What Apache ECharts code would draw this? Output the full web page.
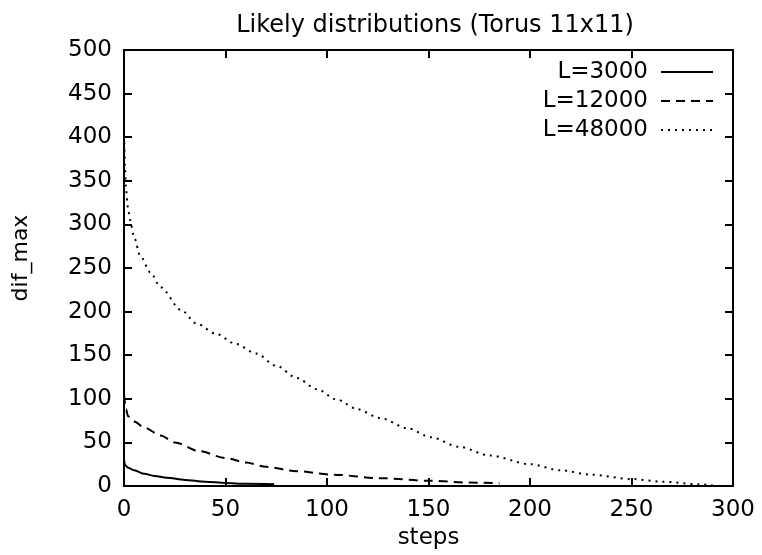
<!DOCTYPE html>
<html><head><meta charset="utf-8">
<script src="https://cdn.jsdelivr.net/npm/echarts@6/dist/echarts.min.js"></script>
<style>html,body{margin:0;padding:0;background:#fff}#c{width:762px;height:555px}</style>
</head><body><div id="c"></div>
<script>
const titleText = 'Likely distributions (Torus 11x11)';
const xName = 'steps';
const yName = 'dif_max';
const seriesNames = ['L=3000', 'L=12000', 'L=48000'];
const xTicks = [0, 50, 100, 150, 200, 250, 300];
const yTicks = [0, 50, 100, 150, 200, 250, 300, 350, 400, 450, 500];

const steps3000 = [0, 0.5, 2, 5, 10, 15, 21, 30, 40, 50, 60, 74];
const vals3000  = [30, 24, 21, 18, 14, 11.5, 9.5, 7, 5, 3.5, 2.5, 2];

const steps12000 = [0, 1, 2, 5, 10, 18, 25, 37, 50, 60, 70, 85, 103, 126, 150, 170, 185];
const vals12000  = [105, 88, 80, 74, 67, 58, 50, 40, 32, 27, 22, 17, 13, 9, 6, 4, 3];

const steps48000 = [0, 0.5, 1, 2, 3, 5, 8, 13, 18, 28, 36, 45, 55, 65, 75, 85, 95, 105, 115, 126, 140, 151, 165, 180, 200, 215, 230, 250, 265, 283, 290];
const vals48000  = [410, 365, 340, 318, 305, 285, 264, 245, 228, 202, 186, 175, 163, 152, 138, 124, 111, 99, 88, 78, 66, 56, 45, 35, 25, 18, 13, 8, 5, 2, 1];

function pairs(xs, ys) { return xs.map((x, i) => [x, ys[i]]); }

const font = 'DejaVu Sans';
const chart = echarts.init(document.getElementById('c'), null, {renderer: 'canvas'});
const axisLine = {show: true, onZero: false, lineStyle: {color: '#000', width: 2}};
const axisTick = {show: true, inside: true, length: 8, lineStyle: {color: '#000', width: 2}};
const lbl = {color: '#000', fontFamily: font, fontSize: 23};

chart.setOption({
  animation: false,
  backgroundColor: '#fff',
  title: {text: titleText, left: 430, textAlign: 'center', top: 9,
    textStyle: {color: '#000', fontFamily: font, fontSize: 24, fontWeight: 'normal'}},
  grid: {left: 124, right: 762 - 733, top: 50, bottom: 555 - 488, containLabel: false},
  legend: {
    right: 43, top: 54, orient: 'vertical', align: 'right',
    itemWidth: 52, itemHeight: 14, itemGap: 3,
    itemStyle: {opacity: 0},
    textStyle: {color: '#000', fontFamily: font, fontSize: 23, lineHeight: 26, padding: [0, 8, 0, 0]},
    data: seriesNames
  },
  xAxis: [
    {type: 'value', min: 0, max: 300, interval: 50, position: 'bottom',
     name: xName, nameLocation: 'middle', nameGap: 41,
     nameTextStyle: {color: '#000', fontFamily: font, fontSize: 23},
     axisLine, axisTick, splitLine: {show: false},
     axisLabel: Object.assign({margin: 13}, lbl)},
    {type: 'value', min: 0, max: 300, interval: 50, position: 'top',
     axisLine, axisTick, splitLine: {show: false}, axisLabel: {show: false}}
  ],
  yAxis: [
    {type: 'value', min: 0, max: 500, interval: 50, position: 'left',
     name: yName, nameLocation: 'middle', nameGap: 92, nameRotate: 90,
     nameTextStyle: {color: '#000', fontFamily: font, fontSize: 22, padding: [0, 0, 0, 20]},
     axisLine, axisTick, splitLine: {show: false},
     axisLabel: Object.assign({margin: 12}, lbl)},
    {type: 'value', min: 0, max: 500, interval: 50, position: 'right',
     axisLine, axisTick, splitLine: {show: false}, axisLabel: {show: false}}
  ],
  series: [
    {name: seriesNames[0], type: 'line', showSymbol: false, symbol: 'none',
     smooth: 0.3, smoothMonotone: 'x',
     data: pairs(steps3000, vals3000),
     lineStyle: {color: '#000', width: 2, type: 'solid'}, itemStyle: {color: '#000'}},
    {name: seriesNames[1], type: 'line', showSymbol: false, symbol: 'none',
     smooth: 0.3, smoothMonotone: 'x',
     data: pairs(steps12000, vals12000),
     lineStyle: {color: '#000', width: 2, type: [9, 6]}, itemStyle: {color: '#000'}},
    {name: seriesNames[2], type: 'line', showSymbol: false, symbol: 'none',
     smooth: 0.3, smoothMonotone: 'x',
     data: pairs(steps48000, vals48000),
     lineStyle: {color: '#000', width: 2, type: [2, 5]}, itemStyle: {color: '#000'}}
  ]
});
</script>
</body></html>
